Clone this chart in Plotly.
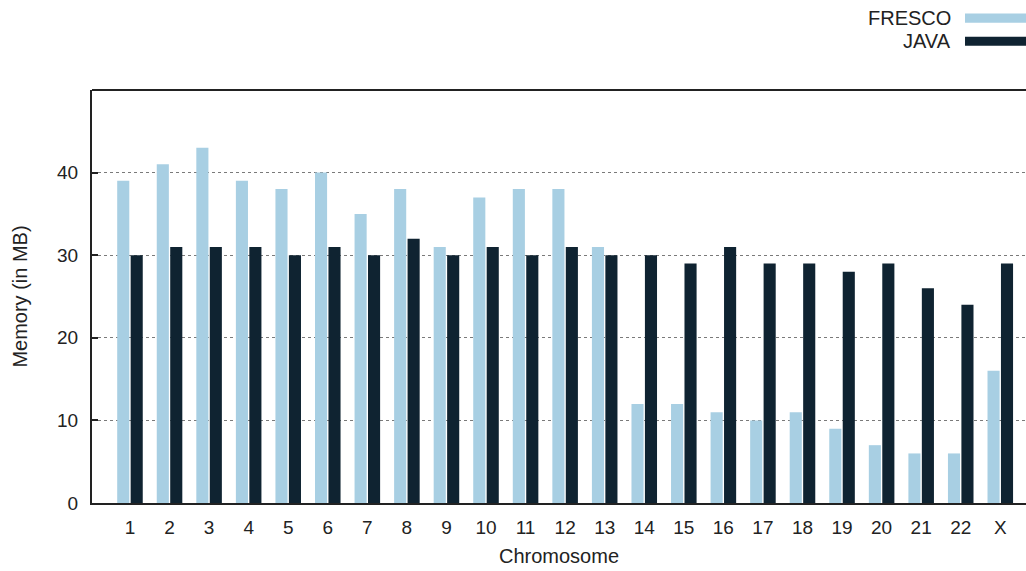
import plotly.graph_objects as go

chromosomes = ["1", "2", "3", "4", "5", "6", "7", "8", "9", "10", "11", "12",
               "13", "14", "15", "16", "17", "18", "19", "20", "21", "22", "X"]
fresco_mb = [39, 41, 43, 39, 38, 40, 35, 38, 31, 37, 38, 38,
             31, 12, 12, 11, 10, 11, 9, 7, 6, 6, 16]
java_mb = [30, 31, 31, 31, 30, 31, 30, 32, 30, 31, 30, 31,
           30, 30, 29, 31, 29, 29, 28, 29, 26, 24, 29]
y_ticks = [0, 10, 20, 30, 40]

FRESCO_COLOR = "#a8cfe3"
JAVA_COLOR = "#0f2331"
TEXT_COLOR = "#222222"
FONT = "Liberation Sans, Arial, sans-serif"

fig = go.Figure()
fig.add_trace(go.Bar(name="FRESCO", x=chromosomes, y=fresco_mb,
                     marker=dict(color=FRESCO_COLOR, line=dict(width=0))))
fig.add_trace(go.Bar(name="JAVA", x=chromosomes, y=java_mb,
                     marker=dict(color=JAVA_COLOR, line=dict(width=0))))

fig.update_layout(
    width=1026, height=571,
    margin=dict(l=92, r=0, t=90, b=68),
    paper_bgcolor="white", plot_bgcolor="white",
    barmode="group", bargap=0.32, bargroupgap=0.1,
    showlegend=False,
    font=dict(family=FONT, size=19, color=TEXT_COLOR),
)

fig.update_xaxes(
    type="category", range=[-0.96, 22.65],
    showline=True, linecolor="#222222", linewidth=2,
    showgrid=False, ticks="", ticklabelstandoff=6,
    title=dict(text="Chromosome", standoff=12, font=dict(size=20)),
    automargin=False,
)
fig.update_yaxes(
    range=[0, 50], tickvals=y_ticks,
    showline=True, linecolor="#222222", linewidth=2,
    showgrid=True, gridcolor="#7a7a7a", gridwidth=1, griddash="dot",
    zeroline=False,
    ticks="inside", ticklen=6, tickcolor="#222222", tickwidth=1.5,
    ticklabelstandoff=8,
    title=dict(text="Memory (in MB)", standoff=24, font=dict(size=20)),
    automargin=False,
)

# top frame line of the plot area
fig.add_shape(type="line", xref="paper", yref="paper", x0=0, x1=1, y0=1, y1=1,
              line=dict(color="#222222", width=2))

# legend drawn at the top right: label on the left, colour swatch on the right
legend_items = [("FRESCO", FRESCO_COLOR, 1.174), ("JAVA", JAVA_COLOR, 1.118)]
for label, color, ypos in legend_items:
    fig.add_annotation(text=label, xref="paper", yref="paper", x=0.922, y=ypos,
                       xanchor="right", yanchor="middle", showarrow=False,
                       font=dict(size=20, color=TEXT_COLOR))
    fig.add_shape(type="rect", xref="paper", yref="paper",
                  x0=0.9347, x1=1.0, y0=ypos - 0.011, y1=ypos + 0.011,
                  fillcolor=color, line=dict(width=0))

fig.write_html("out.html")
